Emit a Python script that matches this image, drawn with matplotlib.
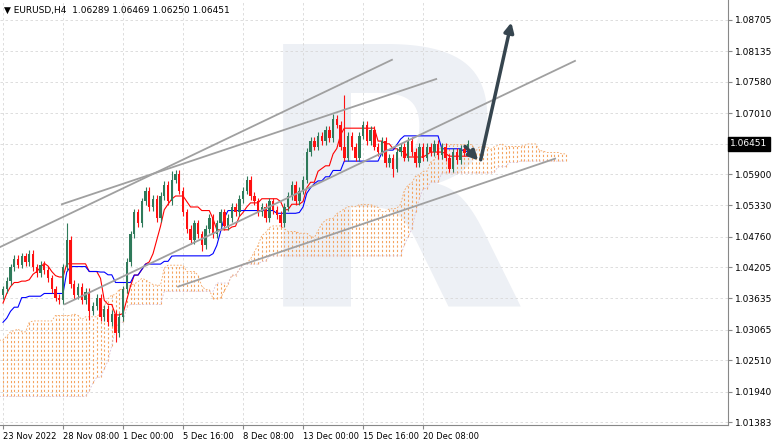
import matplotlib
matplotlib.use("Agg")
import matplotlib.pyplot as plt
import numpy as np
import pandas as pd

# H4 closes, history bars before the visible window then the visible bars
pre_closes = [0.9960, 0.9990, 1.0010, 0.9980, 0.9950, 0.9970, 1.0000, 1.0030, 1.0020, 1.0050,
              1.0080, 1.0120, 1.0180, 1.0220, 1.0200, 1.0250, 1.0300, 1.0330, 1.0310, 1.0350,
              1.0370, 1.0340, 1.0320, 1.0300, 1.0340, 1.0360, 1.0390, 1.0420, 1.0400, 1.0370,
              1.0320, 1.0300, 1.0290, 1.0320, 1.0310, 1.0330, 1.0300, 1.0280, 1.0260, 1.0290,
              1.0320, 1.0350, 1.0330, 1.0310, 1.0290, 1.0300, 1.0330, 1.0350, 1.0360, 1.0340,
              1.0300, 1.0330, 1.0360, 1.0370, 1.0350, 1.0360, 1.0380, 1.0360, 1.0350, 1.0370]
closes = [1.0380, 1.0395, 1.0420, 1.0435, 1.0425, 1.0440, 1.0430, 1.0445, 1.0420, 1.0410, 1.0425, 1.0415, 1.0400, 1.0380, 1.0365, 1.0360,
          1.0420, 1.0470, 1.0390, 1.0370, 1.0385, 1.0360, 1.0375, 1.0340, 1.0350, 1.0365, 1.0330, 1.0345, 1.0320, 1.0335, 1.0300, 1.0330,
          1.0380, 1.0430, 1.0480, 1.0520, 1.0500, 1.0540, 1.0560, 1.0530, 1.0545, 1.0510, 1.0550, 1.0570, 1.0540, 1.0580, 1.0590, 1.0560,
          1.0520, 1.0490, 1.0470, 1.0500, 1.0480, 1.0460, 1.0490, 1.0510, 1.0480, 1.0500, 1.0520, 1.0495, 1.0510, 1.0530, 1.0520, 1.0545,
          1.0560, 1.0580, 1.0550, 1.0540, 1.0520, 1.0530, 1.0510, 1.0540, 1.0525, 1.0515, 1.0500, 1.0530, 1.0550, 1.0570, 1.0540, 1.0560,
          1.0580, 1.0630, 1.0650, 1.0640, 1.0660, 1.0650, 1.0670, 1.0655, 1.0690, 1.0680, 1.0640, 1.0620, 1.0660, 1.0640, 1.0620, 1.0660,
          1.0680, 1.0650, 1.0670, 1.0640, 1.0630, 1.0650, 1.0610, 1.0620, 1.0600, 1.0630, 1.0640, 1.0620, 1.0650, 1.0630, 1.0610, 1.0640,
          1.0620, 1.0640, 1.0630, 1.0645, 1.0625, 1.0640, 1.0620, 1.0600, 1.0630, 1.0615, 1.0635, 1.0629, 1.0645]
wick = 0.0007
spikes_high = {17: 1.0500, 45: 1.0596, 88: 1.0700, 91: 1.0734}
spikes_low = {30: 1.0285, 23: 1.0325, 53: 1.0450, 104: 1.0585}

date_labels = ["23 Nov 2022", "28 Nov 08:00", "1 Dec 00:00", "5 Dec 16:00", "8 Dec 08:00",
               "13 Dec 00:00", "15 Dec 16:00", "20 Dec 08:00"]
price_ticks = [1.08705, 1.08135, 1.07580, 1.07010, 1.05900, 1.05330, 1.04760, 1.04205,
               1.03635, 1.03065, 1.02510, 1.01940, 1.01383]
last_price = 1.06451

# trend lines and arrows as (bar, price) pairs
trend_lines = [((-0.8, 1.0457), (103.7, 1.0798)), ((15.7, 1.0535), (115.5, 1.0763)),
               ((16.5, 1.0353), (152.5, 1.0796)), ((46.7, 1.0385), (147.2, 1.0618))]
arrow_small = ((122.7, 1.0644), (127.2, 1.0611))
arrow_big = ((127.2, 1.0611), (135.7, 1.0871))

allc = pre_closes + closes
n_pre = len(pre_closes)
c = np.array(allc)
o = np.concatenate([[c[0]], c[:-1]])
h = np.maximum(o, c) + wick
l = np.minimum(o, c) - wick
for k, v in spikes_high.items():
    h[n_pre + k] = v
for k, v in spikes_low.items():
    l[n_pre + k] = v
x = np.arange(len(c)) - n_pre

df = pd.DataFrame({"h": h, "l": l})
tenkan = (df.h.rolling(9, min_periods=1).max() + df.l.rolling(9, min_periods=1).min()) / 2
kijun = (df.h.rolling(26, min_periods=1).max() + df.l.rolling(26, min_periods=1).min()) / 2
span_a = ((tenkan + kijun) / 2).values
span_b = ((df.h.rolling(52, min_periods=1).max() + df.l.rolling(52, min_periods=1).min()) / 2).values
xs = x + 26

fig = plt.figure(figsize=(7.82, 4.43), dpi=100)
ax = fig.add_axes([0, 18 / 443, 728 / 782, 1 - 18 / 443])
ax.set_xlim(-0.8, 193.3)
ax.set_ylim(1.01330, 1.09069)

ax.text(103, 1.0530, "R", fontsize=260, fontweight="bold", color="#edf0f5",
        ha="center", va="center", zorder=0, family="DejaVu Sans")

for p in price_ticks + [last_price]:
    ax.axhline(p, color="#d8d8d8", lw=0.6, ls=(0, (3, 3)), zorder=1)
for i in range(len(date_labels)):
    ax.axvline(i * 16, color="#d8d8d8", lw=0.6, ls=(0, (3, 3)), zorder=1)

vis = xs >= -1
for xi, a, b in zip(xs[vis], span_a[vis], span_b[vis]):
    ax.vlines(xi, min(a, b), max(a, b), color="#f4a460", lw=0.8, ls=(0, (2, 2)), zorder=2)
ax.plot(xs[vis], span_a[vis], color="#f4a460", lw=0.6, ls=(0, (2, 2)), zorder=2)
ax.plot(xs[vis], span_b[vis], color="#d8bfd8", lw=0.6, ls=(0, (2, 2)), zorder=2)

m = x >= 0
ax.plot(x[m], tenkan.values[m], color="#ff0000", lw=0.8, zorder=3)
ax.plot(x[m], kijun.values[m], color="#0000ff", lw=0.8, zorder=3)

for xi, oi, hi, li, ci in zip(x[m], o[m], h[m], l[m], c[m]):
    col = "#2f7a5a" if ci >= oi else "#ff1010"
    ax.vlines(xi, li, hi, color=col, lw=0.8, zorder=4)
    ax.bar(xi, max(abs(ci - oi), 0.00012), bottom=min(oi, ci), width=0.65, color=col, zorder=4)

for (p0, p1) in trend_lines:
    ax.plot([p0[0], p1[0]], [p0[1], p1[1]], color="#a0a0a0", lw=1.3, zorder=5)
for (p0, p1) in [arrow_small, arrow_big]:
    ax.annotate("", xy=p1, xytext=p0,
                arrowprops=dict(arrowstyle="-|>", color="#36454f", lw=2.5, mutation_scale=14), zorder=6)

ax.set_xticks([i * 16 for i in range(len(date_labels))])
ax.set_xticklabels(date_labels, ha="left", fontsize=6)
ax.yaxis.tick_right()
ax.set_yticks(price_ticks)
ax.set_yticklabels(["%.5f" % p for p in price_ticks], fontsize=6.5)
ax.tick_params(length=3, color="#888888", pad=2)
for s in ["top", "left"]:
    ax.spines[s].set_visible(False)
ax.spines["right"].set_color("#888888")
ax.spines["bottom"].set_color("#888888")
ax.text(1.003, last_price, "%.5f" % last_price, transform=ax.get_yaxis_transform(),
        fontsize=6.5, color="white", va="center", ha="left",
        bbox=dict(boxstyle="square,pad=0.25", fc="black", ec="black"))
ax.text(0.006, 0.985, "\u25bc EURUSD,H4  1.06289 1.06469 1.06250 1.06451", transform=ax.transAxes,
        fontsize=6.5, va="top", ha="left")

fig.savefig("out.png", dpi=100)
